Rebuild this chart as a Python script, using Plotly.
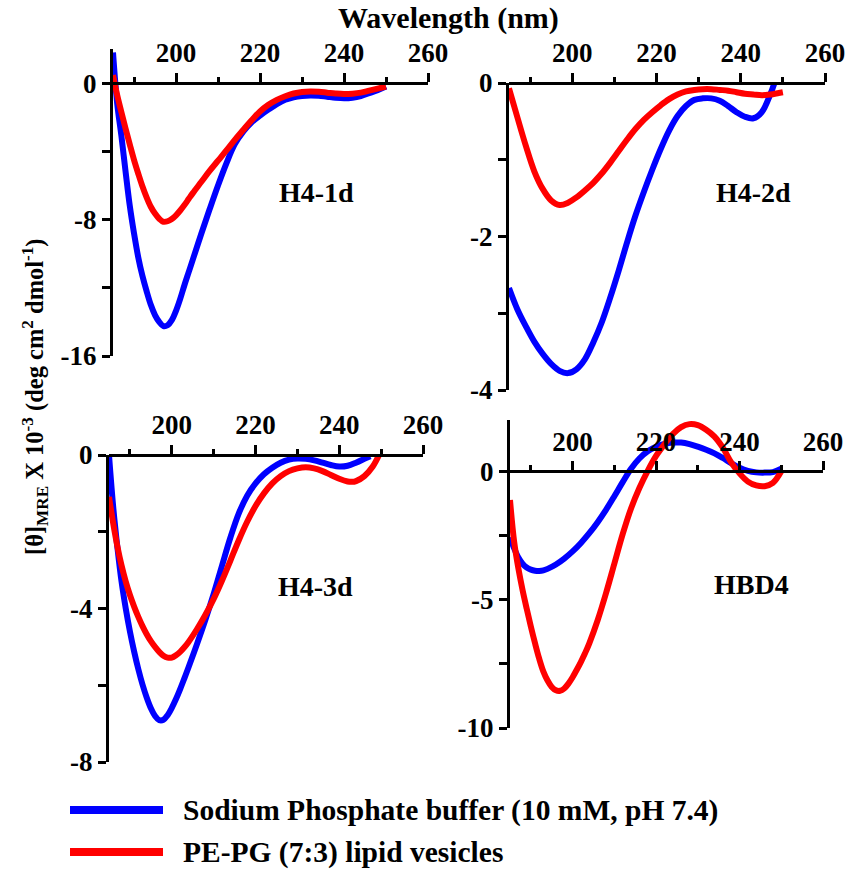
import plotly.graph_objects as go

# ---------------- data ----------------
p1_wl_buffer = [185, 186, 187, 188, 189, 190, 191, 192, 193, 194, 195, 196, 197, 198, 199, 200, 201, 202, 203, 204, 206, 208, 210, 212, 214, 216, 218, 220, 222, 224, 226, 228, 230, 232, 234, 236, 238, 240, 242, 244, 246, 248, 250]
p1_buffer = [1.8, -1.2, -3.1, -5.2, -7.2, -8.8, -10.2, -11.3, -12.2, -13.0, -13.6, -14.0, -14.25, -14.2, -13.9, -13.35, -12.65, -11.85, -11.1, -10.35, -8.85, -7.4, -6.0, -4.7, -3.58, -2.85, -2.3, -1.9, -1.55, -1.23, -0.98, -0.83, -0.75, -0.72, -0.74, -0.8, -0.86, -0.89, -0.86, -0.76, -0.59, -0.41, -0.2]
p1_wl_lipid = [185, 186, 187, 188, 189, 190, 191, 192, 193, 194, 195, 196, 197, 198, 199, 200, 201, 202, 203, 204, 206, 208, 210, 212, 214, 216, 218, 220, 222, 224, 226, 228, 230, 232, 234, 236, 238, 240, 242, 244, 246, 248, 250]
p1_lipid = [0.47, -0.7, -1.7, -2.67, -3.6, -4.5, -5.3, -6.05, -6.7, -7.25, -7.65, -7.95, -8.13, -8.1, -7.97, -7.75, -7.47, -7.15, -6.8, -6.45, -5.8, -5.15, -4.55, -3.95, -3.33, -2.75, -2.18, -1.66, -1.27, -0.98, -0.77, -0.61, -0.52, -0.49, -0.51, -0.56, -0.61, -0.64, -0.62, -0.56, -0.44, -0.32, -0.2]

p2_wl_buffer = [185, 187, 189, 191, 193, 195, 197, 199, 201, 203, 205, 207, 209, 211, 213, 215, 217, 219, 221, 223, 225, 227, 229, 231, 233, 235, 237, 239, 241, 243, 245, 247, 248]
p2_buffer = [-2.67, -2.95, -3.17, -3.37, -3.53, -3.66, -3.75, -3.78, -3.73, -3.6, -3.38, -3.12, -2.8, -2.45, -2.08, -1.73, -1.42, -1.13, -0.86, -0.62, -0.43, -0.3, -0.22, -0.2, -0.2, -0.23, -0.3, -0.38, -0.44, -0.46, -0.38, -0.15, 0.0]
p2_wl_lipid = [185, 187, 189, 191, 193, 195, 197, 199, 201, 203, 205, 207, 209, 211, 213, 215, 217, 219, 221, 223, 225, 227, 229, 231, 233, 235, 237, 239, 241, 243, 245, 247, 249, 250]
p2_lipid = [-0.07, -0.45, -0.82, -1.15, -1.38, -1.53, -1.59, -1.56, -1.49, -1.4, -1.3, -1.18, -1.04, -0.89, -0.74, -0.6, -0.48, -0.38, -0.29, -0.21, -0.15, -0.11, -0.09, -0.08, -0.08, -0.09, -0.1, -0.12, -0.14, -0.15, -0.16, -0.15, -0.13, -0.12]

p3_wl_buffer = [185, 186, 187, 188, 189, 190, 191, 192, 193, 194, 195, 196, 197, 198, 199, 200, 201, 202, 203, 204, 206, 208, 210, 212, 214, 216, 218, 220, 222, 224, 226, 228, 230, 232, 234, 236, 238, 240, 242, 244, 246, 247.4]
p3_buffer = [0.0, -1.35, -2.4, -3.3, -4.0, -4.6, -5.12, -5.58, -5.98, -6.32, -6.6, -6.8, -6.91, -6.9, -6.78, -6.59, -6.36, -6.1, -5.82, -5.53, -4.93, -4.3, -3.62, -2.88, -2.15, -1.52, -1.06, -0.74, -0.5, -0.33, -0.2, -0.12, -0.09, -0.1, -0.14, -0.2, -0.26, -0.3, -0.28, -0.2, -0.1, -0.03]
p3_wl_lipid = [185, 186, 187, 188, 189, 190, 191, 192, 193, 194, 195, 196, 197, 198, 199, 200, 201, 202, 203, 204, 206, 208, 210, 212, 214, 216, 218, 220, 222, 224, 226, 228, 230, 232, 234, 236, 238, 240, 242, 243, 244, 246, 248, 249.5]
p3_lipid = [-1.09, -1.78, -2.38, -2.88, -3.3, -3.65, -3.95, -4.22, -4.46, -4.67, -4.85, -5.0, -5.13, -5.23, -5.28, -5.28, -5.22, -5.13, -5.01, -4.87, -4.54, -4.17, -3.75, -3.27, -2.75, -2.22, -1.74, -1.33, -1.0, -0.74, -0.55, -0.42, -0.35, -0.32, -0.35, -0.42, -0.52, -0.62, -0.69, -0.7, -0.68, -0.55, -0.3, 0.0]

p4_wl_buffer = [185, 186, 187, 188, 189, 190, 191, 192, 193, 194, 196, 198, 200, 202, 204, 206, 208, 210, 212, 214, 216, 218, 220, 222, 224, 226, 228, 230, 232, 234, 236, 238, 240, 242, 244, 246, 248, 250]
p4_buffer = [-2.57, -3.0, -3.36, -3.6, -3.75, -3.83, -3.87, -3.88, -3.86, -3.8, -3.63, -3.4, -3.12, -2.79, -2.41, -1.98, -1.5, -0.97, -0.42, 0.1, 0.5, 0.78, 0.96, 1.07, 1.12, 1.12, 1.06, 0.96, 0.84, 0.7, 0.52, 0.32, 0.14, 0.02, -0.04, -0.05, -0.03, 0.1]
p4_wl_lipid = [185, 186, 187, 188, 189, 190, 191, 192, 193, 194, 195, 196, 197, 198, 199, 200, 201, 202, 203, 204, 206, 208, 210, 212, 214, 216, 218, 220, 222, 224, 226, 228, 230, 232, 234, 236, 238, 240, 242, 244, 246, 248, 250]
p4_lipid = [-1.12, -2.75, -3.78, -4.62, -5.35, -6.05, -6.7, -7.3, -7.8, -8.15, -8.4, -8.53, -8.55, -8.46, -8.27, -8.02, -7.73, -7.42, -7.08, -6.7, -5.8, -4.75, -3.6, -2.45, -1.45, -0.65, 0.02, 0.6, 1.05, 1.45, 1.72, 1.84, 1.8, 1.62, 1.35, 0.92, 0.35, -0.08, -0.4, -0.55, -0.58, -0.45, 0.0]

panel_names = ["H4-1d", "H4-2d", "H4-3d", "HBD4"]
series_names = ["Sodium Phosphate buffer (10 mM, pH 7.4)", "PE-PG (7:3) lipid vesicles"]
series_colors = ["#0000ff", "#ff0000"]

x_tick_vals = [200, 220, 240, 260]
x_minor_vals = [190, 210, 230, 250]
y_ticks = [
    ([0, -4, -8, -12, -16], ["0", "", "-8", "", "-16"]),
    ([0, -1, -2, -3, -4], ["0", "", "-2", "", "-4"]),
    ([0, -2, -4, -6, -8], ["0", "", "-4", "", "-8"]),
    ([0, -2.5, -5, -7.5, -10], ["0", "", "-5", "", "-10"]),
]
y_ranges = [[-16, 2.0], [-4, 0.0], [-8, 0.0], [-10, 2.0]]
x_range = [185, 260]

# ---------------- layout geometry (pixels) ----------------
W, H = 847, 869
# (left, right, top, bottom) of each plotting area in pixels
boxes = [(113, 428, 49, 356), (509, 825, 83, 390), (109, 423, 455, 762), (510, 823, 420, 728)]

FONT = "Liberation Serif, Times New Roman, serif"


def bfont(size):
    return dict(family=FONT, size=size, color="black", weight="bold")


fig = go.Figure()
data = [
    (p1_wl_buffer, p1_buffer, p1_wl_lipid, p1_lipid),
    (p2_wl_buffer, p2_buffer, p2_wl_lipid, p2_lipid),
    (p3_wl_buffer, p3_buffer, p3_wl_lipid, p3_lipid),
    (p4_wl_buffer, p4_buffer, p4_wl_lipid, p4_lipid),
]
for i, (wb, vb, wl, vl) in enumerate(data):
    sfx = "" if i == 0 else str(i + 1)
    for w, v, c, n in [(wb, vb, series_colors[0], series_names[0]), (wl, vl, series_colors[1], series_names[1])]:
        fig.add_trace(go.Scatter(x=w, y=v, mode="lines", name=n, showlegend=False,
                                 line=dict(color=c, width=6, shape="spline", smoothing=1.0),
                                 xaxis="x" + sfx, yaxis="y" + sfx))

layout = {}
for i in range(4):
    l, r, t, b = boxes[i]
    ydom = [1 - b / H, 1 - t / H]
    ymin, ymax = y_ranges[i]
    zero_pos = ydom[0] + (0 - ymin) / (ymax - ymin) * (ydom[1] - ydom[0])
    sfx = "" if i == 0 else str(i + 1)
    layout["xaxis" + sfx] = dict(
        domain=[l / W, r / W], range=x_range, anchor="free", position=zero_pos, side="top",
        showline=True, linecolor="black", linewidth=3, ticks="outside", ticklen=9, tickwidth=3,
        tickcolor="black", tickvals=x_tick_vals, ticktext=[str(v) for v in x_tick_vals],
        tickfont=bfont(27), showgrid=False, zeroline=False, automargin=False,
        minor=dict(tickvals=x_minor_vals, ticks="outside", ticklen=5, tickwidth=3, tickcolor="black", showgrid=False),
    )
    tv, tt = y_ticks[i]
    layout["yaxis" + sfx] = dict(
        domain=ydom, range=y_ranges[i], anchor="x" + sfx, side="left",
        showline=True, linecolor="black", linewidth=3, ticks="outside", ticklen=8, tickwidth=3,
        tickcolor="black", tickvals=tv, ticktext=tt, tickfont=bfont(27), showgrid=False,
        zeroline=False, automargin=False,
    )

annotations = []
label_pos = [(316, 193), (753, 193), (315, 586), (751, 584)]
for name, (px, py) in zip(panel_names, label_pos):
    annotations.append(dict(text=name, x=px / W, y=1 - py / H, xref="paper", yref="paper",
                            xanchor="center", yanchor="middle", showarrow=False, font=bfont(28)))
annotations.append(dict(text="Wavelength (nm)", x=448 / W, y=1 - 18 / H, xref="paper", yref="paper",
                        xanchor="center", yanchor="middle", showarrow=False, font=bfont(30)))
annotations.append(dict(text="[θ]<sub>MRE</sub> X 10<sup>-3</sup> (deg cm<sup>2</sup> dmol<sup>-1</sup>)",
                        x=35 / W, y=1 - 397 / H, xref="paper", yref="paper", textangle=-90,
                        xanchor="center", yanchor="middle", showarrow=False, font=bfont(24.5)))
shapes = []
legend_rows = [810, 852]
for name, color, py in zip(series_names, series_colors, legend_rows):
    shapes.append(dict(type="line", xref="paper", yref="paper", x0=70 / W, x1=163 / W,
                       y0=1 - py / H, y1=1 - py / H, line=dict(color=color, width=8)))
    annotations.append(dict(text=name, x=181 / W, y=1 - py / H, xref="paper", yref="paper",
                            xanchor="left", yanchor="middle", showarrow=False, font=bfont(29.5)))

fig.update_layout(
    width=W, height=H, margin=dict(l=0, r=0, t=0, b=0, pad=0, autoexpand=False),
    paper_bgcolor="white", plot_bgcolor="white", showlegend=False,
    annotations=annotations, shapes=shapes, **layout,
)
fig.write_html("out.html", config={"displayModeBar": False},
               post_script="document.body.style.margin='0px';document.body.style.overflow='hidden';")
